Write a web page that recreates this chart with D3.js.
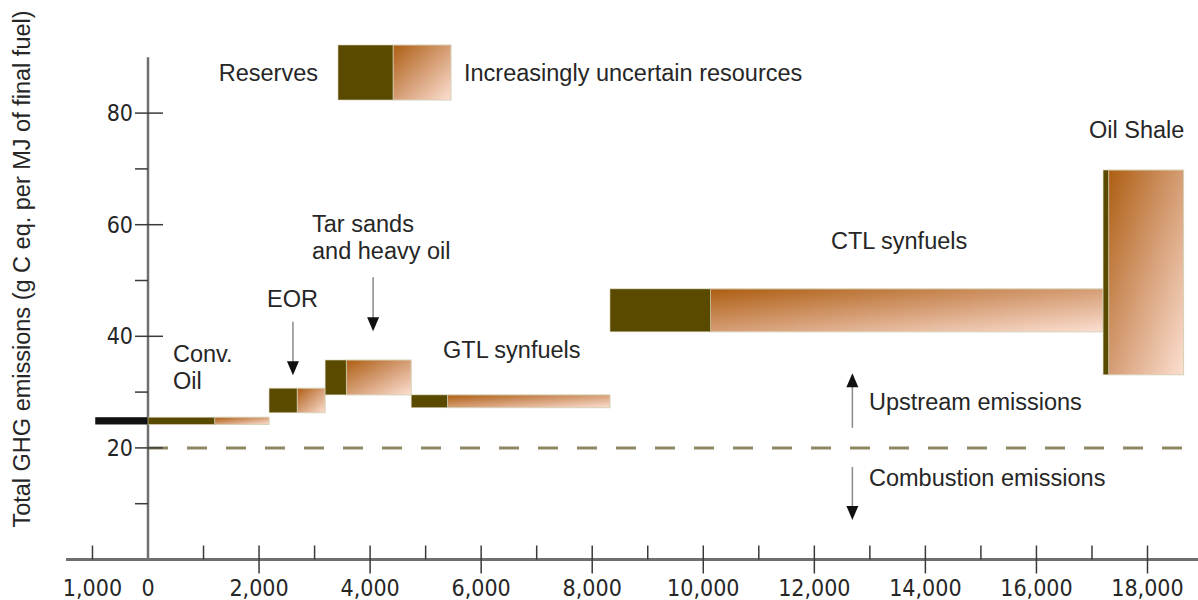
<!DOCTYPE html>
<html>
<head>
<meta charset="utf-8">
<script src="https://cdn.jsdelivr.net/npm/d3@7"></script>
<style>
  body { margin: 0; background: #fff; }
  svg { display: block; }
  .lbl { font-family: "Liberation Sans", Arial, sans-serif; font-size: 23.5px; fill: #262626; }
  .tick-lbl { font-family: "DejaVu Sans Condensed", "DejaVu Sans", sans-serif; font-size: 23px; fill: #262626; }
</style>
</head>
<body>
<svg id="chart" width="1198" height="600"></svg>
<script>
// fuel sources, left to right
var fuels = ["Conv. Oil", "EOR", "Tar sands and heavy oil", "GTL synfuels", "CTL synfuels", "Oil Shale"];
var startVol = [0, 2180, 3190, 4740, 8320, 17200];
var reserveEnd = [1200, 2685, 3570, 5390, 10130, 17300];
var resourceEnd = [2180, 3190, 4740, 8320, 17200, 18650];
var lowEmission = [24.2, 26.3, 29.5, 27.2, 40.8, 33.1];
var highEmission = [25.5, 30.7, 35.75, 29.5, 48.5, 69.8];

// already used conventional oil (left of 0)
var usedStart = -950;
var usedLow = 24.2, usedHigh = 25.5;

var combustionLevel = 20;

var xTicks = d3.range(-1000, 18001, 1000);
var xLabels = [-1000, 0, 2000, 4000, 6000, 8000, 10000, 12000, 14000, 16000, 18000];
var yTicks = [10, 20, 30, 40, 50, 60, 70, 80];
var yLabels = [20, 40, 60, 80];

var svg = d3.select("#chart");

var x = d3.scaleLinear().domain([0, 18000]).range([148, 1147.5]);
var y = d3.scaleLinear().domain([0, 90]).range([559.5, 57.3]);

var defs = svg.append("defs");
var grad = defs.append("linearGradient")
    .attr("id", "uncertain")
    .attr("x1", 0).attr("y1", 0).attr("x2", 1).attr("y2", 1);
grad.append("stop").attr("offset", "0%").attr("stop-color", "#ad5e12");
grad.append("stop").attr("offset", "50%").attr("stop-color", "#d59d74");
grad.append("stop").attr("offset", "100%").attr("stop-color", "#fcdfd1");

var olive = "#594a00";
var edge = "#d6d0b6";

// combustion baseline
svg.append("line")
    .attr("x1", x(0)).attr("x2", x(18650))
    .attr("y1", y(combustionLevel)).attr("y2", y(combustionLevel))
    .attr("stroke", "#8e8763")
    .attr("stroke-width", 3)
    .attr("stroke-dasharray", "20,19");

// axes
svg.append("line")
    .attr("x1", 66).attr("x2", 1198)
    .attr("y1", y(0)).attr("y2", y(0))
    .attr("stroke", "#6f6f6f").attr("stroke-width", 3);

svg.append("line")
    .attr("x1", x(0)).attr("x2", x(0))
    .attr("y1", y(0)).attr("y2", y(90))
    .attr("stroke", "#6f6f6f").attr("stroke-width", 2.5);

svg.append("g").selectAll("line")
    .data(xTicks.filter(function(d) { return d !== 0; }))
    .join("line")
    .attr("x1", function(d) { return x(d); })
    .attr("x2", function(d) { return x(d); })
    .attr("y1", y(0) - 14)
    .attr("y2", function(d) { return (d > 0 && d % 2000 === 0) ? y(0) + 14 : y(0); })
    .attr("stroke", "#3a3a3a").attr("stroke-width", 1.5);

svg.append("g").selectAll("text")
    .data(xLabels)
    .join("text")
    .attr("class", "tick-lbl")
    .attr("x", function(d) { return x(d); })
    .attr("y", 596)
    .attr("text-anchor", "middle")
    .text(function(d) { return d3.format(",")(Math.abs(d)); });

svg.append("g").selectAll("line")
    .data(yTicks)
    .join("line")
    .attr("y1", function(d) { return y(d); })
    .attr("y2", function(d) { return y(d); })
    .attr("x1", x(0) - 13)
    .attr("x2", function(d) { return d % 20 === 0 ? x(0) + 15 : x(0); })
    .attr("stroke", "#3a3a3a").attr("stroke-width", 1.5);

svg.append("g").selectAll("text")
    .data(yLabels)
    .join("text")
    .attr("class", "tick-lbl")
    .attr("x", 133)
    .attr("y", function(d) { return y(d) + 8; })
    .attr("text-anchor", "end")
    .text(function(d) { return d; });

svg.append("text")
    .attr("class", "lbl")
    .attr("transform", "translate(30,269) rotate(-90)")
    .attr("text-anchor", "middle")
    .text("Total GHG emissions (g C eq. per MJ of final fuel)");

// used oil
svg.append("rect")
    .attr("x", x(usedStart))
    .attr("width", x(0) - x(usedStart))
    .attr("y", y(usedHigh))
    .attr("height", y(usedLow) - y(usedHigh))
    .attr("fill", "#111");

var idx = d3.range(fuels.length);
var bars = svg.append("g");

bars.selectAll("rect.resource")
    .data(idx)
    .join("rect")
    .attr("class", "resource")
    .attr("x", function(i) { return x(reserveEnd[i]); })
    .attr("width", function(i) { return x(resourceEnd[i]) - x(reserveEnd[i]); })
    .attr("y", function(i) { return y(highEmission[i]); })
    .attr("height", function(i) { return y(lowEmission[i]) - y(highEmission[i]); })
    .attr("fill", "url(#uncertain)")
    .attr("stroke", edge).attr("stroke-width", 1);

bars.selectAll("rect.reserve")
    .data(idx)
    .join("rect")
    .attr("class", "reserve")
    .attr("x", function(i) { return x(startVol[i]); })
    .attr("width", function(i) { return x(reserveEnd[i]) - x(startVol[i]); })
    .attr("y", function(i) { return y(highEmission[i]); })
    .attr("height", function(i) { return y(lowEmission[i]) - y(highEmission[i]); })
    .attr("fill", olive)
    .attr("stroke", edge).attr("stroke-width", 0.6);

// legend
svg.append("rect").attr("x", 393).attr("y", 45).attr("width", 58).attr("height", 55)
    .attr("fill", "url(#uncertain)").attr("stroke", edge);
svg.append("rect").attr("x", 338).attr("y", 45).attr("width", 55).attr("height", 55)
    .attr("fill", olive).attr("stroke", edge).attr("stroke-width", 0.6);
svg.append("text").attr("class", "lbl").attr("x", 318).attr("y", 81)
    .attr("text-anchor", "end").text("Reserves");
svg.append("text").attr("class", "lbl").attr("x", 464).attr("y", 81)
    .text("Increasingly uncertain resources");

// annotations
var notes = [
    {lines: ["Conv.", "Oil"], x: 173, y: 362},
    {lines: ["EOR"], x: 267, y: 307},
    {lines: ["Tar sands", "and heavy oil"], x: 312, y: 232},
    {lines: ["GTL synfuels"], x: 443, y: 358},
    {lines: ["CTL synfuels"], x: 831, y: 249},
    {lines: ["Oil Shale"], x: 1089, y: 138},
    {lines: ["Upstream emissions"], x: 869, y: 410},
    {lines: ["Combustion emissions"], x: 869, y: 486}
];

notes.forEach(function(n) {
    var t = svg.append("text").attr("class", "lbl").attr("x", n.x).attr("y", n.y);
    n.lines.forEach(function(l, i) {
        t.append("tspan").attr("x", n.x).attr("dy", i === 0 ? 0 : 27).text(l);
    });
});

var arrows = [
    {x: 2610, from: 42.6, to: 33.0},
    {x: 4054, from: 50.6, to: 40.9},
    {x: 12685, from: 23.6, to: 33.4},
    {x: 12685, from: 16.6, to: 7.1}
];

arrows.forEach(function(a) {
    var ax = x(a.x), y1 = y(a.from), y2 = y(a.to);
    var dir = y2 > y1 ? 1 : -1;
    svg.append("line")
        .attr("x1", ax).attr("x2", ax)
        .attr("y1", y1).attr("y2", y2 - dir * 10)
        .attr("stroke", "#8a8a8a").attr("stroke-width", 1.5);
    svg.append("path")
        .attr("d", "M" + (ax - 6) + "," + (y2 - dir * 14) + "L" + (ax + 6) + "," + (y2 - dir * 14) + "L" + ax + "," + y2 + "Z")
        .attr("fill", "#111");
});
</script>
</body>
</html>
